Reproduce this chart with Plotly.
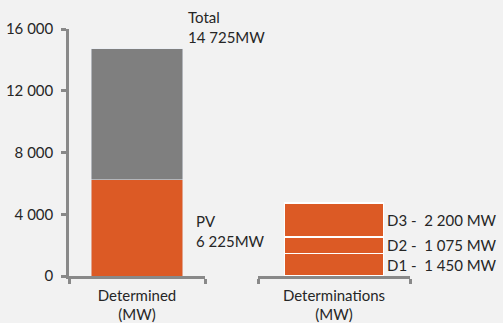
import plotly.graph_objects as go

# Capacity data (MW)
determined_cat = ["Determined<br>(MW)"]
determinations_cat = ["Determinations<br>(MW)"]
pv_mw = [6225]
total_mw = [14725]
round_names = ["D1", "D2", "D3"]
round_mw = [1450, 1075, 2200]
y_ticks = [0, 4000, 8000, 12000, 16000]

ORANGE = "#dc5a25"
GREY = "#7f7f7f"
AXIS = "#898989"
TEXT = "#262626"
BG = "#f2f2f2"
FONT = "Lato"
FS = 15

W, H = 503, 323
bar_w = 0.67
bar_w2 = 0.65

def fmt(v):
    return f"{v:,}".replace(",", " ")

fig = go.Figure()

# Left column: PV part plus the remainder up to the total
fig.add_trace(go.Bar(x=determined_cat, y=pv_mw, marker_color=ORANGE,
                     width=bar_w, xaxis="x", yaxis="y"))
fig.add_trace(go.Bar(x=determined_cat, y=[total_mw[0] - pv_mw[0]], marker_color=GREY,
                     width=bar_w, xaxis="x", yaxis="y"))

# Right column: stacked determination rounds
for name, v in zip(round_names, round_mw):
    fig.add_trace(go.Bar(x=determinations_cat, y=[v], name=name, marker_color=ORANGE,
                         marker_line=dict(color="white", width=1.5),
                         width=bar_w2, xaxis="x2", yaxis="y2"))

annotations = [
    dict(xref="x", yref="y", x=bar_w / 2, y=total_mw[0], xanchor="left", yanchor="bottom",
         xshift=3, yshift=1, align="left", showarrow=False,
         text=f"Total<br>{fmt(total_mw[0])}MW"),
    dict(xref="x", yref="y", x=bar_w / 2, y=pv_mw[0] / 2, xanchor="left", yanchor="middle",
         xshift=11, yshift=-3, align="left", showarrow=False,
         text=f"PV<br>{fmt(pv_mw[0])}MW"),
]
base = 0
for name, v in zip(round_names, round_mw):
    annotations.append(dict(xref="x2", yref="y2", x=bar_w2 / 2, y=base + v / 2,
                            xanchor="left", yanchor="middle", xshift=2,
                            showarrow=False, text=f"{name} -  {fmt(v)} MW"))
    base += v

axis_common = dict(showline=True, linecolor=AXIS, linewidth=2.5, ticks="outside",
                   tickcolor=AXIS, tickwidth=2.5, ticklen=5, showgrid=False,
                   zeroline=False, automargin=False,
                   tickfont=dict(family=FONT, size=FS, color=TEXT))

fig.update_layout(
    width=W, height=H, barmode="stack", showlegend=False,
    paper_bgcolor=BG, plot_bgcolor=BG,
    margin=dict(l=0, r=0, t=29, b=47),
    separators=". ",
    font=dict(family=FONT, size=FS, color=TEXT),
    xaxis=dict(domain=[69 / W, 205 / W], range=[-0.5, 0.5], tickson="boundaries",
               anchor="y", tickangle=0, ticklabelstandoff=4, **axis_common),
    xaxis2=dict(domain=[258 / W, 410 / W], range=[-0.5, 0.5], tickson="boundaries",
                anchor="y2", tickangle=0, ticklabelstandoff=4, **axis_common),
    yaxis=dict(range=[0, 16000], tickvals=y_ticks, tickformat=",d", anchor="x",
               ticklabelstandoff=5, **axis_common),
    yaxis2=dict(range=[0, 16000], anchor="x2", showline=False,
                showticklabels=False, showgrid=False, zeroline=False, ticks=""),
    annotations=annotations,
)

fig.write_html("out.html")
